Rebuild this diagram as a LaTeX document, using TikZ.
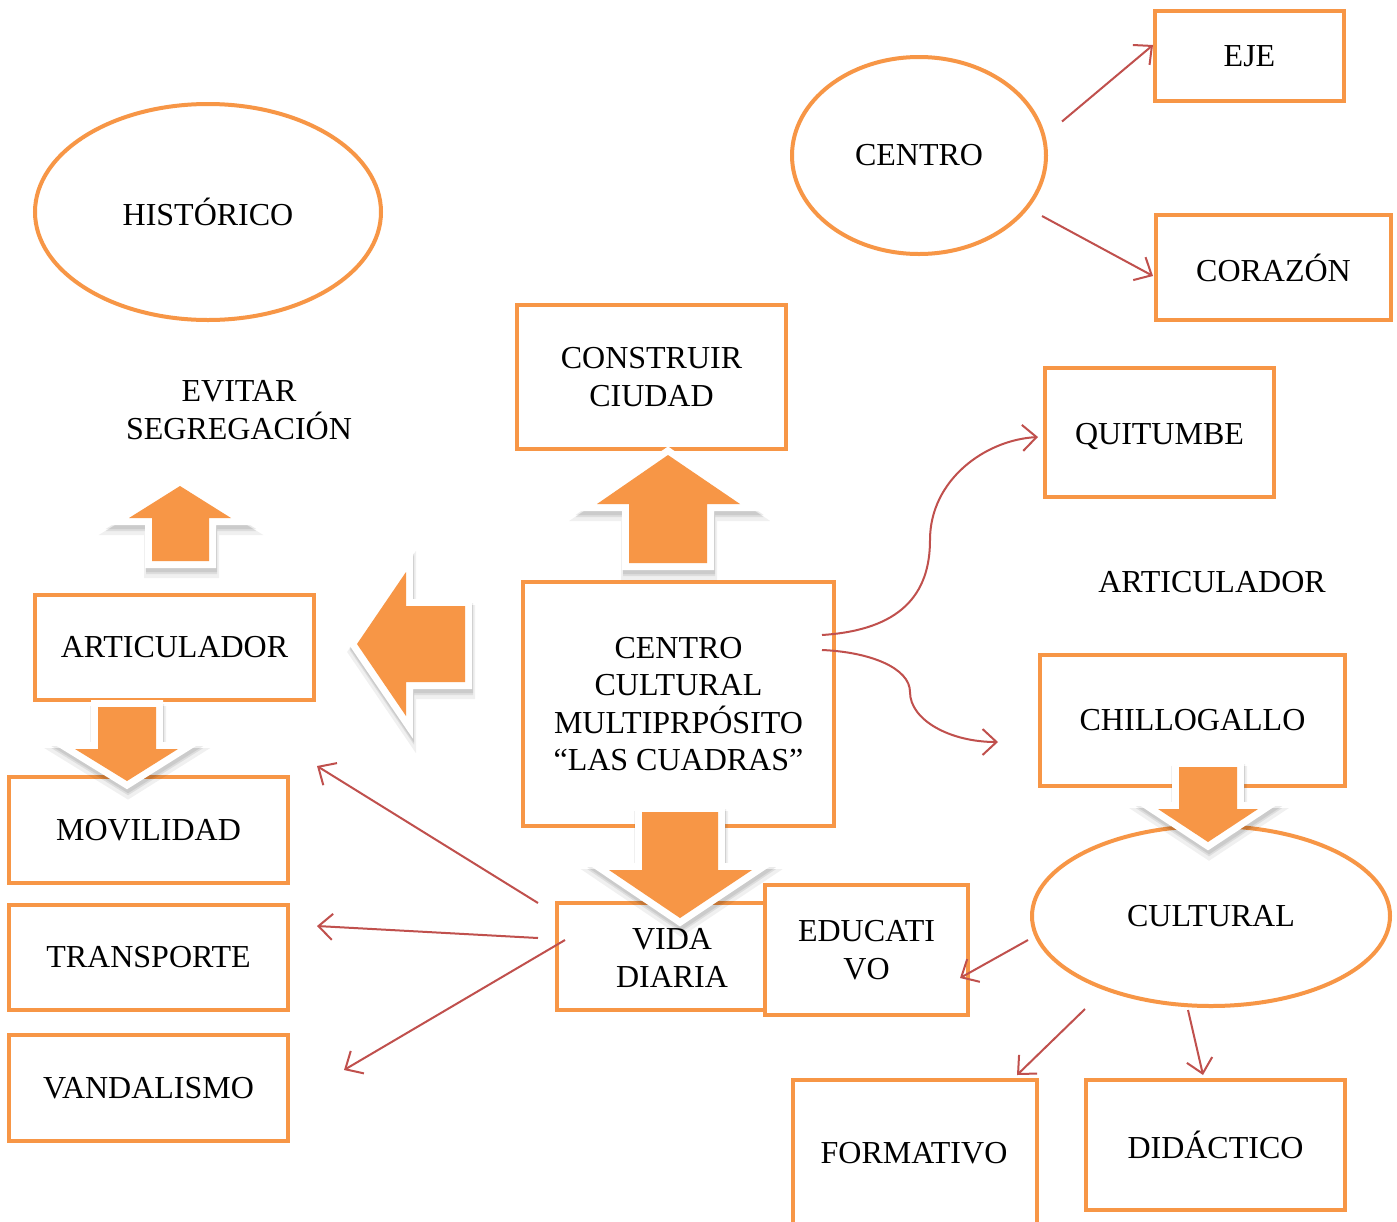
\documentclass[tikz,border=0pt]{standalone}
\usepackage{fontspec}
\setmainfont{Liberation Serif}
\usetikzlibrary{shapes.geometric,arrows.meta}
\definecolor{orgF}{HTML}{F79646}
\definecolor{redA}{HTML}{C0504D}
\newcommand\bkarr[1]{%
  \draw[black, opacity=.06, line width=9pt, line join=miter, shift={(1,8)}] #1 -- cycle;
  \draw[black, opacity=.08, line width=7pt, line join=miter, shift={(1,6)}] #1 -- cycle;
  \draw[black, opacity=.08, line width=7pt, line join=miter, shift={(1,4)}] #1 -- cycle;
  \path[draw=white, line width=7pt, line join=miter, fill=orgF] #1 -- cycle;
  \fill[orgF] #1 -- cycle;
}
\tikzset{
  box/.style={draw=orgF, line width=2pt, rectangle, inner sep=0pt, align=center, font=\fontsize{16}{18.75}\selectfont},
  oval/.style={draw=orgF, line width=2pt, ellipse, inner sep=0pt, align=center, font=\fontsize{16}{18.75}\selectfont},
  txt/.style={inner sep=0pt, align=center, font=\fontsize{16}{18.75}\selectfont},
  rarrow/.style={draw=redA, line width=1pt, -{Straight Barb[length=7pt,width=13pt,line width=1pt]}}
}
\begin{document}
\begin{tikzpicture}[x=0.5pt, y=-0.5pt]
\clip (0,0) rectangle (1397,1221);
\fill[white] (0,0) rectangle (1397,1221);

% ellipses
\node[oval, minimum width=173pt, minimum height=108pt] (hist) at (208,212) {HISTÓRICO};
\node[oval, minimum width=127pt, minimum height=98.5pt] (centro) at (919,155.5) {CENTRO};
\node[oval, minimum width=179pt, minimum height=90pt] (cult) at (1211,916) {CULTURAL};

% boxes
\node[box, minimum width=94.5pt, minimum height=45pt] (eje) at (1249.5,56) {EJE};
\node[box, minimum width=117.5pt, minimum height=52.5pt] (cora) at (1273.5,267.5) {CORAZÓN};
\node[box, minimum width=134.5pt, minimum height=72pt] (constr) at (651.5,377) {CONSTRUIR\\CIUDAD};
\node[box, minimum width=114.5pt, minimum height=64.5pt] (quit) at (1159.5,432.5) {};
\node[box, minimum width=139.5pt, minimum height=52.5pt] (artl) at (174.5,647.5) {ARTICULADOR};
\node[box, minimum width=155.5pt, minimum height=122pt] (main) at (678.5,704) {CENTRO\\CULTURAL\\MULTIPRPÓSITO\\“LAS CUADRAS”};
\node[box, minimum width=152.5pt, minimum height=65.5pt] (chil) at (1192.5,720.5) {CHILLOGALLO};
\node[box, minimum width=139.5pt, minimum height=53pt] (movi) at (148.5,830) {MOVILIDAD};
\node[box, minimum width=139.5pt, minimum height=52.5pt] (trans) at (148.5,957.5) {TRANSPORTE};
\node[box, minimum width=139.5pt, minimum height=53pt] (vand) at (148.5,1088) {VANDALISMO};
\node[box, minimum width=104pt, minimum height=53.5pt] (vida) at (661,956.5) {};
\node[box, minimum width=101.5pt, minimum height=65pt] (educ) at (866.5,950) {EDUCATI\\VO};
\node[box, minimum width=122pt, minimum height=85pt] (form) at (915,1165) {};
\node[box, minimum width=129.5pt, minimum height=65pt] (dida) at (1215.5,1145) {DIDÁCTICO};

% free texts
\node[txt] (quitt) at (1159.5,436) {QUITUMBE};
\node[txt] (evitar) at (239,410) {EVITAR\\SEGREGACIÓN};
\node[txt] (artr) at (1212,582) {ARTICULADOR};
\node[txt] (formt) at (914,1153) {FORMATIVO};

% red connectors
\draw[rarrow] ([shift={(14,-34)}]centro.east) -- ([shift={(0,-11)}]eje.west);
\draw[rarrow] ([shift={(-6,60.5)}]centro.east) -- ([shift={(-1,8.5)}]cora.west);
\draw[rarrow] ([shift={(-14,-69)}]main.east) .. controls (900,630) and (930,595) .. (930,540) .. controls (930,480) and (985,440) .. ([shift={(-5,4.5)}]quit.west);
\draw[rarrow] ([shift={(-14,-54)}]main.east) .. controls (870,652) and (910,668) .. (910,692) .. controls (910,720) and (950,742) .. ([shift={(-40,21.5)}]chil.west);
\draw[rarrow] ([shift={(-17,-53.5)}]vida.west) -- ([shift={(27,-64)}]movi.east);
\draw[rarrow] ([shift={(-17,-18.5)}]vida.west) -- ([shift={(27,-31.5)}]trans.east);
\draw[rarrow] ([shift={(10,-16.5)}]vida.west) -- ([shift={(54,-18)}]vand.east);
\draw[rarrow] ([shift={(-2,24)}]cult.west) -- ([shift={(-10,28)}]educ.east);
\draw[rarrow] ([shift={(-126,1)}]cult.south) -- ([shift={(102,-3)}]form.north);
\draw[rarrow] ([shift={(-23,2)}]cult.south) -- ([shift={(-12.5,-3)}]dida.north);

% block arrows
\bkarr{(629,563) -- (629,504) -- (597,504) -- (668,455) -- (740,504) -- (707,504) -- (707,563)}
\bkarr{(152,561) -- (152,518) -- (129,518) -- (180,486) -- (231,518) -- (209,518) -- (209,561)}
\bkarr{(465,606) -- (406,606) -- (406,572) -- (357,644) -- (406,716) -- (406,682) -- (465,682)}
\bkarr{(98,707) -- (98,749) -- (75,749) -- (127,781) -- (178,749) -- (156,749) -- (156,707)}
\bkarr{(642,812) -- (642,870) -- (609,870) -- (680,918) -- (752,870) -- (718,870) -- (718,812)}
\bkarr{(1179,767) -- (1179,809) -- (1158,809) -- (1208,842) -- (1258,809) -- (1237,809) -- (1237,767)}

\node[txt] (vidat) at (672,958) {VIDA\\DIARIA};
\end{tikzpicture}
\end{document}
